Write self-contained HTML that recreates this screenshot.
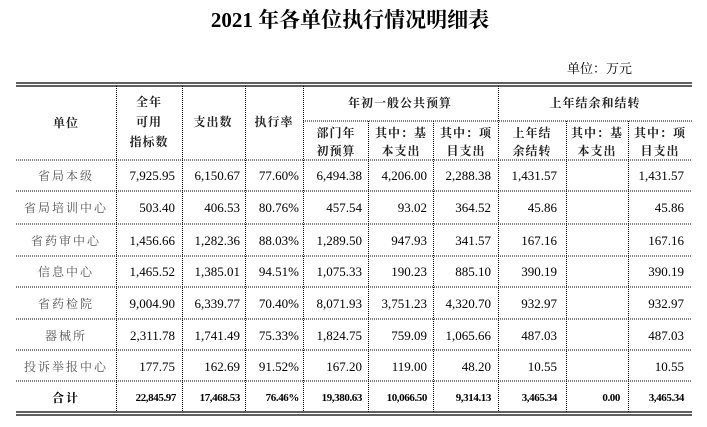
<!DOCTYPE html>
<html><head><meta charset="utf-8"><style>
html,body{margin:0;padding:0;background:#fff;}
svg{display:block}
text{font-family:"Liberation Serif","Noto Serif CJK SC",serif;}
.c{font-family:"Liberation Serif","Noto Serif CJK SC",serif;}
</style></head><body>
<svg width="707" height="427" viewBox="0 0 707 427" xmlns="http://www.w3.org/2000/svg">
<text x="350" y="27" text-anchor="middle" font-size="21" font-weight="bold" class="c">2021 年各单位执行情况明细表</text>
<text x="567" y="73" font-size="13" class="c">单位：万元</text>
<g stroke="#000" fill="none">
<line x1="16" y1="83" x2="692" y2="83" stroke-width="1.2"/>
<line x1="16" y1="86" x2="692" y2="86" stroke-width="1.2"/>
<line x1="16" y1="412" x2="692" y2="412" stroke-width="1.2"/>
<line x1="16" y1="415" x2="692" y2="415" stroke-width="1.2"/>
</g>
<g stroke="#000" stroke-dasharray="1,1" stroke-width="1">
<line x1="303" y1="121" x2="692" y2="121"/>
<line x1="16" y1="160" x2="692" y2="160"/>
<line x1="16" y1="191" x2="692" y2="191"/>
<line x1="16" y1="224" x2="692" y2="224"/>
<line x1="16" y1="256" x2="692" y2="256"/>
<line x1="16" y1="287" x2="692" y2="287"/>
<line x1="16" y1="319" x2="692" y2="319"/>
<line x1="16" y1="350" x2="692" y2="350"/>
<line x1="16" y1="381" x2="692" y2="381"/>
<line x1="116.5" y1="86" x2="116.5" y2="412"/>
<line x1="182.5" y1="86" x2="182.5" y2="412"/>
<line x1="245.5" y1="86" x2="245.5" y2="412"/>
<line x1="303.5" y1="86" x2="303.5" y2="412"/>
<line x1="368.5" y1="121" x2="368.5" y2="412"/>
<line x1="433.5" y1="121" x2="433.5" y2="412"/>
<line x1="498.5" y1="86" x2="498.5" y2="412"/>
<line x1="566.5" y1="121" x2="566.5" y2="412"/>
<line x1="628.5" y1="121" x2="628.5" y2="412"/>
</g>
<g font-size="12" font-weight="bold" text-anchor="middle" fill="#222" letter-spacing="1">
<text x="66" y="127">单位</text>
<text x="149" y="106">全年</text>
<text x="149" y="126">可用</text>
<text x="149" y="146">指标数</text>
<text x="213" y="126">支出数</text>
<text x="274" y="126">执行率</text>
<text x="400" y="107">年初一般公共预算</text>
<text x="595" y="107">上年结余和结转</text>
<text x="336" y="137">部门年</text><text x="336" y="155">初预算</text>
<text x="401" y="137">其中：基</text><text x="401" y="155">本支出</text>
<text x="466" y="137">其中：项</text><text x="466" y="155">目支出</text>
<text x="532" y="137">上年结</text><text x="532" y="155">余结转</text>
<text x="597" y="137">其中：基</text><text x="597" y="155">本支出</text>
<text x="660" y="137">其中：项</text><text x="660" y="155">目支出</text>
</g>
<g font-size="12" text-anchor="middle" fill="#555" letter-spacing="2">
<text x="66" y="180">省局本级</text>
<text x="66" y="212">省局培训中心</text>
<text x="66" y="245">省药审中心</text>
<text x="66" y="276">信息中心</text>
<text x="66" y="308">省药检院</text>
<text x="66" y="340">器械所</text>
<text x="66" y="371">投诉举报中心</text>
</g>
<text x="66" y="402" font-size="12" font-weight="bold" text-anchor="middle" letter-spacing="2">合计</text>
<g font-size="13" text-anchor="end" fill="#000">
<text x="175" y="180">7,925.95</text><text x="240" y="180">6,150.67</text><text x="299" y="180">77.60%</text><text x="362" y="180">6,494.38</text><text x="427" y="180">4,206.00</text><text x="491" y="180">2,288.38</text><text x="557" y="180">1,431.57</text><text x="684" y="180">1,431.57</text>
<text x="175" y="212">503.40</text><text x="240" y="212">406.53</text><text x="299" y="212">80.76%</text><text x="362" y="212">457.54</text><text x="427" y="212">93.02</text><text x="491" y="212">364.52</text><text x="557" y="212">45.86</text><text x="684" y="212">45.86</text>
<text x="175" y="245">1,456.66</text><text x="240" y="245">1,282.36</text><text x="299" y="245">88.03%</text><text x="362" y="245">1,289.50</text><text x="427" y="245">947.93</text><text x="491" y="245">341.57</text><text x="557" y="245">167.16</text><text x="684" y="245">167.16</text>
<text x="175" y="276">1,465.52</text><text x="240" y="276">1,385.01</text><text x="299" y="276">94.51%</text><text x="362" y="276">1,075.33</text><text x="427" y="276">190.23</text><text x="491" y="276">885.10</text><text x="557" y="276">390.19</text><text x="684" y="276">390.19</text>
<text x="175" y="308">9,004.90</text><text x="240" y="308">6,339.77</text><text x="299" y="308">70.40%</text><text x="362" y="308">8,071.93</text><text x="427" y="308">3,751.23</text><text x="491" y="308">4,320.70</text><text x="557" y="308">932.97</text><text x="684" y="308">932.97</text>
<text x="175" y="340">2,311.78</text><text x="240" y="340">1,741.49</text><text x="299" y="340">75.33%</text><text x="362" y="340">1,824.75</text><text x="427" y="340">759.09</text><text x="491" y="340">1,065.66</text><text x="557" y="340">487.03</text><text x="684" y="340">487.03</text>
<text x="175" y="371">177.75</text><text x="240" y="371">162.69</text><text x="299" y="371">91.52%</text><text x="362" y="371">167.20</text><text x="427" y="371">119.00</text><text x="491" y="371">48.20</text><text x="557" y="371">10.55</text><text x="684" y="371">10.55</text>
</g>
<g font-size="11" font-weight="bold" text-anchor="end" fill="#000" letter-spacing="-0.4">
<text x="176" y="401">22,845.97</text><text x="240" y="401">17,468.53</text><text x="299" y="401">76.46%</text><text x="362" y="401">19,380.63</text><text x="427" y="401">10,066.50</text><text x="491" y="401">9,314.13</text><text x="557" y="401">3,465.34</text><text x="620" y="401">0.00</text><text x="684" y="401">3,465.34</text>
</g>
</svg>
</body></html>
